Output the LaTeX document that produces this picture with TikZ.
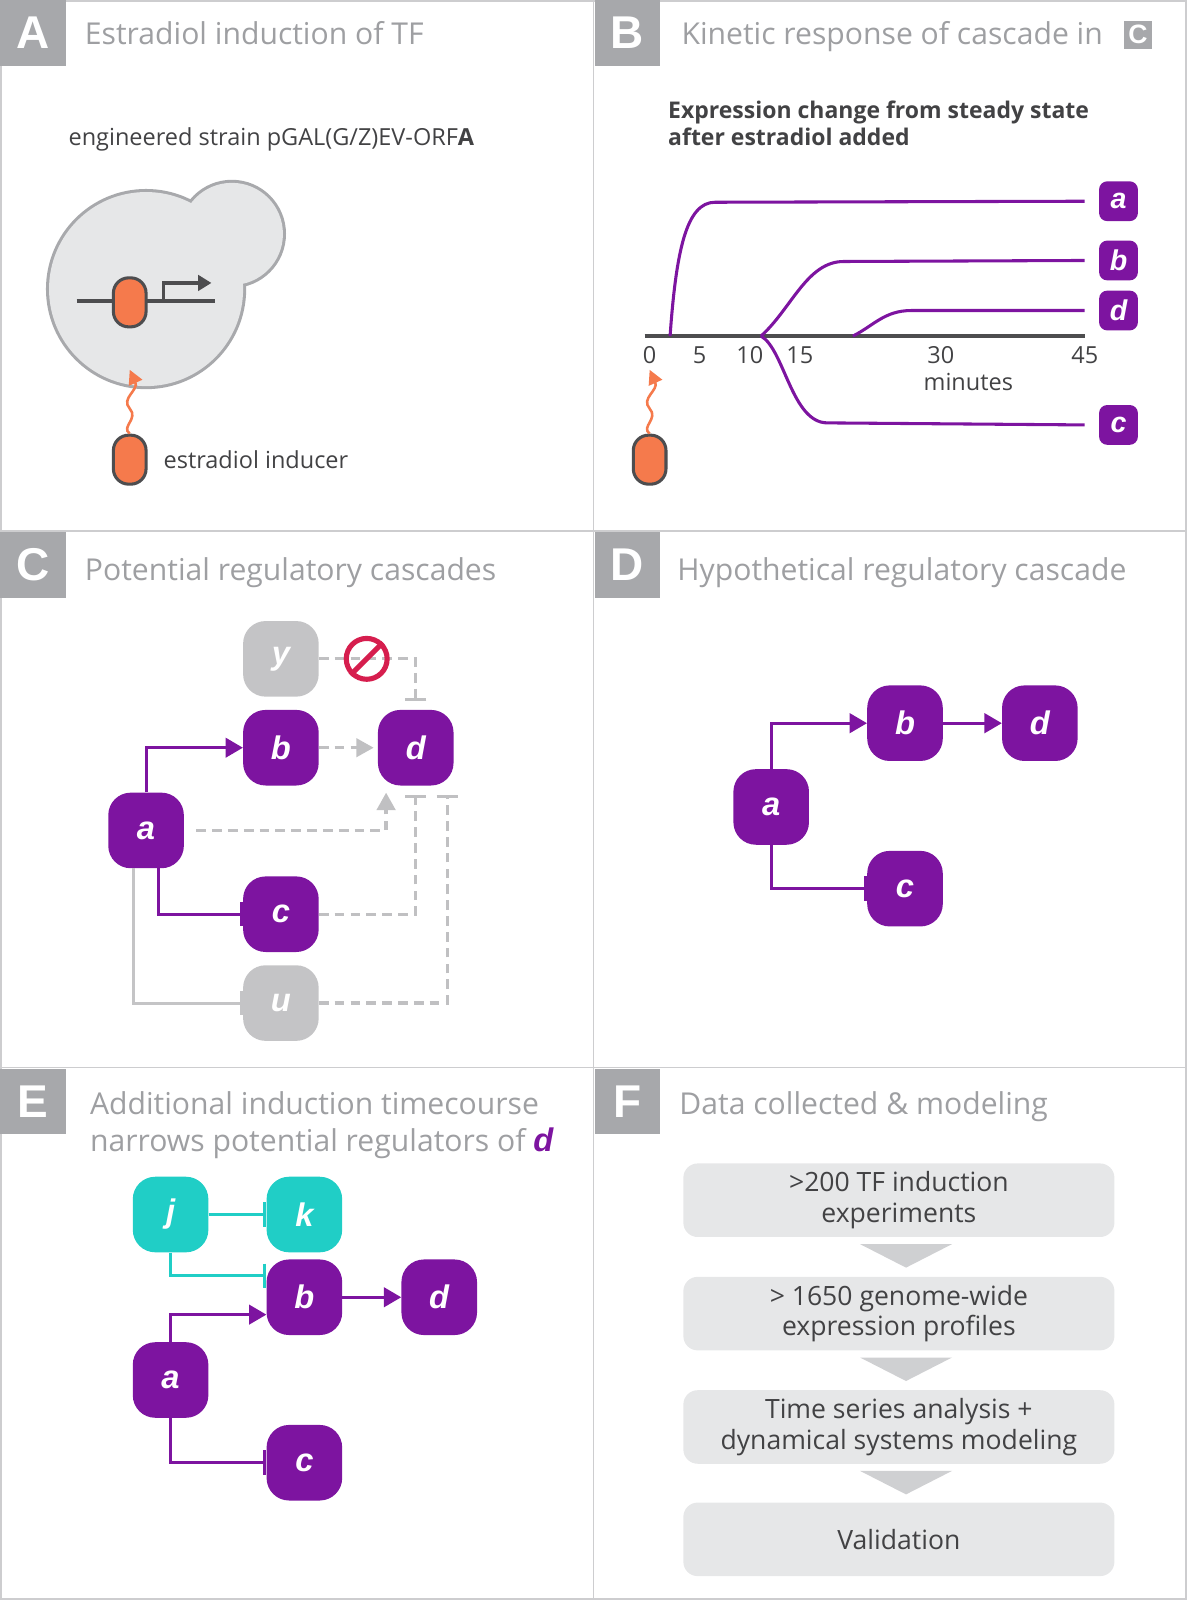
\documentclass[tikz,border=0pt]{standalone}
\usepackage{fontspec}
\setmainfont{Open Sans}
\newfontfamily\lblfont{Liberation Sans}
\usetikzlibrary{arrows.meta}
\definecolor{purp}{RGB}{125,20,160}
\definecolor{teal2}{RGB}{32,206,198}
\definecolor{nodegray}{RGB}{196,196,198}
\definecolor{orng}{RGB}{245,122,76}
\definecolor{dk}{RGB}{77,77,79}
\definecolor{titlegray}{RGB}{158,159,162}
\definecolor{boxgray}{RGB}{167,168,171}
\definecolor{bordergray}{RGB}{205,205,207}
\definecolor{redc}{RGB}{214,30,78}
\definecolor{lightfill}{RGB}{230,231,232}
\definecolor{trigray}{RGB}{207,208,210}
\definecolor{dashgray}{RGB}{192,192,194}
\definecolor{txtdark}{RGB}{66,66,68}
\definecolor{cellline}{RGB}{168,169,172}
\tikzset{
 title/.style={anchor=base west, text=titlegray, font=\fontsize{29.5pt}{36pt}\selectfont, inner sep=0pt, align=left},
 plabel/.style={anchor=north west, fill=boxgray, text=white, font=\lblfont\bfseries\fontsize{45pt}{45pt}\selectfont, minimum width=64pt, minimum height=64pt, inner sep=0pt},
 tfbox/.style={fill=purp, text=white, rounded corners=22pt, minimum width=74pt, minimum height=74pt, inner sep=0pt, font=\lblfont\bfseries\itshape\fontsize{32pt}{32pt}\selectfont},
 graybox/.style={tfbox, fill=nodegray},
 tealbox/.style={tfbox, fill=teal2},
 act/.style={line width=3pt, -{Triangle[length=17pt,width=19pt]}},
 inh/.style={line width=3pt, -{Bar[width=24pt,line width=3pt]}},
 dsh/.style={draw=dashgray, line width=3.2pt, dash pattern=on 9.5pt off 6pt},
 tag/.style={fill=purp, text=white, rounded corners=8pt, minimum width=38pt, minimum height=39pt, inner sep=0pt, font=\lblfont\bfseries\itshape\fontsize{28pt}{28pt}\selectfont},
 body/.style={text=txtdark, font=\fontsize{23pt}{28pt}\selectfont, inner sep=0pt},
 fbox/.style={fill=lightfill, rounded corners=14pt, minimum width=422pt, minimum height=72pt, inner sep=0pt, text=txtdark, align=center, font=\fontsize{26pt}{30pt}\selectfont},
 oval/.style={fill=orng, draw=dk, line width=3pt, rounded corners=15pt, minimum width=32pt, minimum height=48pt, inner sep=0pt},
 curve/.style={draw=purp, line width=3pt},
 wavy/.style={draw=orng, line width=2.5pt, -{Triangle[length=14pt,width=14pt]}},
}
\begin{document}
\begin{tikzpicture}[x=1pt,y=-1pt]
\useasboundingbox (0,0) rectangle (1162,1566.4);
% frame
\draw[bordergray, line width=1.5pt] (0.75,0.75) rectangle (1161.25,1565.65);
\draw[bordergray, line width=1.5pt] (581,0) -- (581,1566.4);
\draw[bordergray, line width=1.5pt] (0,520) -- (1162,520);
\draw[bordergray, line width=1.5pt] (0,1045) -- (1162,1045);
% panel letters and titles
\node[plabel] (LA) at (0,0) {A};
\node[plabel] (LB) at (582,0) {B};
\node[plabel] (LC) at (0,521) {C};
\node[plabel] (LD) at (582,521) {D};
\node[plabel] (LE) at (0,1046) {E};
\node[plabel] (LF) at (582,1046) {F};
\node[title] (TA) at (83,44) {Estradiol induction of TF};
\node[title] (TB) at (667,44) {Kinetic response of cascade in};
\node[fill=boxgray, text=white, minimum width=28pt, minimum height=27pt, inner sep=0pt, font=\lblfont\bfseries\fontsize{26pt}{26pt}\selectfont] (TBC) at (1114,34) {C};
\node[title] (TC) at (83,568) {Potential regulatory cascades};
\node[title] (TD) at (663,568) {Hypothetical regulatory cascade};
\node[title] (TE) at (88,1091) {Additional induction timecourse};
\node[title] (TE2) at (88,1127) {narrows potential regulators of \textcolor{purp}{\lblfont\bfseries\itshape\fontsize{32pt}{36pt}\selectfont d}};
\node[title] (TF) at (665,1091) {Data collected \& modeling};

% ---------- Panel A
\node[body, anchor=base west] (strain) at (67,142) {engineered strain pGAL(G/Z)EV-ORF\textbf{A}};
\draw[cellline, line width=6pt] (143,283) circle (95);
\draw[cellline, line width=6pt] (227,229) circle (50);
\fill[lightfill] (143,283) circle (95);
\fill[lightfill] (227,229) circle (50);
\draw[dk, line width=4pt] (75,295) -- (210,295);
\draw[dk, line width=3.5pt, -{Triangle[length=13pt,width=15pt]}] (160,295) -- (160,277) -- (207,277);
\node[oval] (tfA) at (127,296) {};
\node[oval] (indA) at (127,450) {};
\node[body, anchor=base west] (indtxt) at (160,459) {estradiol inducer};
\coordinate (tipA) at (127,362);
\draw[wavy] (indA.north) .. controls (118,418) and (136,410) .. (127,400) .. controls (118,390) and (136,382) .. (tipA);

% ---------- Panel B
\node[body, anchor=base west, font=\bfseries\fontsize{22.5pt}{28pt}\selectfont] (exp1) at (654,116) {Expression change from steady state};
\node[body, anchor=base west, font=\bfseries\fontsize{22.5pt}{28pt}\selectfont] (exp2) at (654,142) {after estradiol added};
\draw[dk, line width=4pt] (631,329) -- (1062,329);
\foreach \xx/\tt in {636/0,685/5,734/10,783/15,921/30,1062/45}
  \node[body, anchor=base] (tick\tt) at (\xx,356) {\tt};
\node[body, anchor=base] (mins) at (948,382) {minutes};
\node[tag] (ga) at (1095,197) {a};
\node[tag] (gb) at (1095,255) {b};
\node[tag] (gd) at (1095,304) {d};
\node[tag] (gc) at (1095,416) {c};
\draw[curve] (656,329) .. controls (662,245) and (672,198) .. (700,198) -- ([xshift=-14pt]ga.west);
\draw[curve] (745,329) .. controls (775,302) and (790,256) .. (826,256) -- ([xshift=-14pt]gb.west);
\draw[curve] (835,329) .. controls (855,319) and (866,304) .. (892,304) -- ([xshift=-14pt]gd.west);
\draw[curve] (745,329) .. controls (768,342) and (775,414) .. (810,414) -- ([xshift=-14pt]gc.west);
\node[oval] (indB) at (636,450) {};
\coordinate (tipB) at (636,362);
\draw[wavy] (indB.north) .. controls (627,418) and (645,410) .. (636,400) .. controls (627,390) and (645,382) .. (tipB);

% ---------- Panel C
\node[graybox] (cy) at (275,645) {y};
\node[tfbox] (cb) at (275,732) {b};
\node[tfbox] (cd) at (407,732) {d};
\node[tfbox] (ca) at (143,813) {a};
\node[tfbox] (cc) at (275,895) {c};
\node[graybox] (cu) at (275,982) {u};
\coordinate (adtip) at (378,776);
\coordinate (cdbar) at (407,778);
\coordinate (udbar) at (438,778);
\coordinate (ydbar) at (407,686);
\draw[dsh, -{Triangle[length=17pt,width=18pt]}] (cb.east) -- ([xshift=-4pt]cd.west);
\draw[dsh, -{Triangle[length=17pt,width=18pt]}] ([xshift=12pt]ca.east) -| (adtip);
\draw[dsh, -{Bar[width=21pt,line width=3pt]}] (cc.east) -| (cdbar);
\draw[dsh, -{Bar[width=21pt,line width=3pt]}] (cu.east) -| (udbar);
\draw[dsh, -{Bar[width=21pt,line width=3pt]}] (cy.east) -| (ydbar);
\draw[act, purp] (ca.north) |- (cb.west);
\draw[inh, purp] ([xshift=12pt]ca.south) |- (cc.west);
\draw[inh, nodegray] ([xshift=-12pt]ca.south) |- (cu.west);
\node[circle, draw=redc, line width=5pt, minimum size=40pt, inner sep=0pt] (nosign) at (359,645) {};
\draw[redc, line width=5pt] (nosign.north east) -- (nosign.south west);

% ---------- Panel D
\node[tfbox] (db) at (886,708) {b};
\node[tfbox] (dd) at (1018,708) {d};
\node[tfbox] (da) at (755,790) {a};
\node[tfbox] (dc) at (886,870) {c};
\draw[act, purp] (da.north) |- (db.west);
\draw[act, purp] (db.east) -- (dd.west);
\draw[inh, purp] (da.south) |- (dc.west);

% ---------- Panel E
\node[tealbox] (ej) at (167,1189) {j};
\node[tealbox] (ek) at (298,1189) {k};
\node[tfbox] (eb) at (298,1270) {b};
\node[tfbox] (ed) at (430,1270) {d};
\node[tfbox] (ea) at (167,1351) {a};
\node[tfbox] (ec) at (298,1432) {c};
\draw[inh, teal2] (ej.east) -- (ek.west);
\draw[inh, teal2] (ej.south) |- ([yshift=21pt]eb.west);
\draw[act, purp] (ea.north) |- ([yshift=-17pt]eb.west);
\draw[act, purp] (eb.east) -- (ed.west);
\draw[inh, purp] (ea.south) |- (ec.west);

% ---------- Panel F
\node[fbox] (f1) at (880,1175) {>200 TF induction\\experiments};
\node[fbox] (f2) at (880,1286) {> 1650 genome-wide\\expression profiles};
\node[fbox] (f3) at (880,1397) {Time series analysis +\\dynamical systems modeling};
\node[fbox] (f4) at (880,1507) {Validation};
\fill[trigray] (842,1218) -- (932,1218) -- (887,1241) -- cycle;
\fill[trigray] (842,1329) -- (932,1329) -- (887,1352) -- cycle;
\fill[trigray] (842,1440) -- (932,1440) -- (887,1463) -- cycle;
\end{tikzpicture}
\end{document}
